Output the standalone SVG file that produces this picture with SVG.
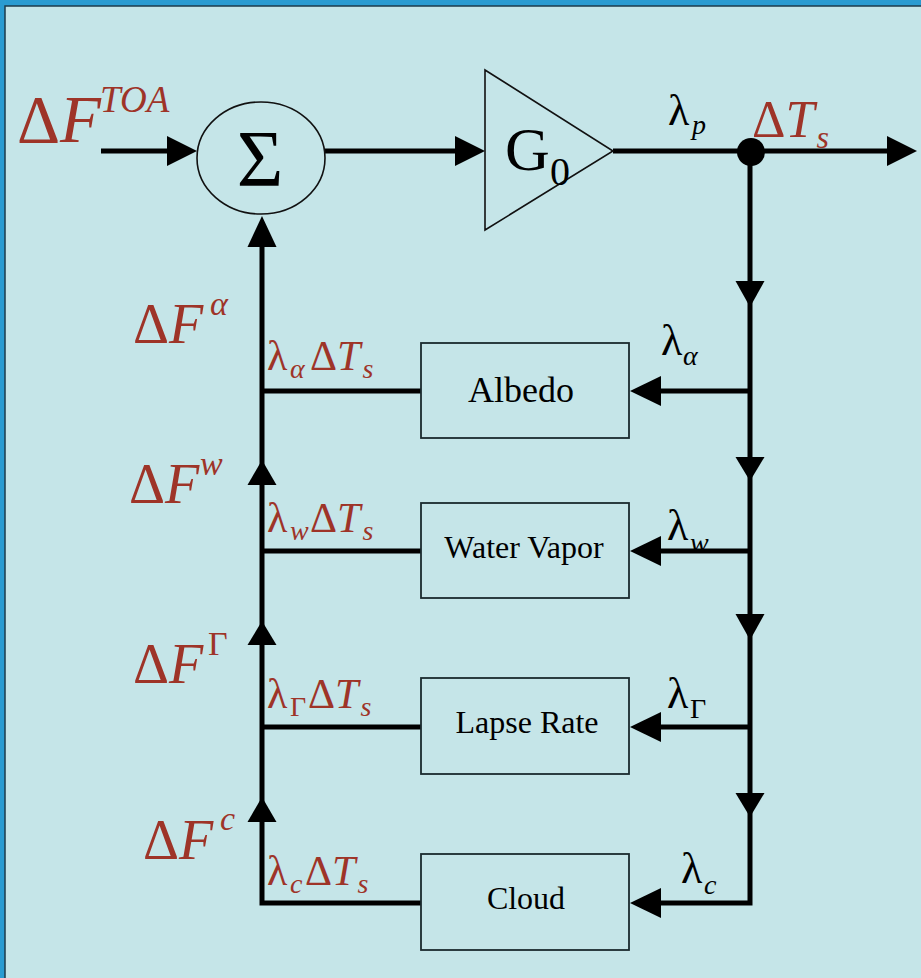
<svg xmlns="http://www.w3.org/2000/svg" width="921" height="978" viewBox="0 0 921 978">
<style>
.ln{fill:none;stroke:#000;stroke-width:5;stroke-linejoin:miter;stroke-linecap:butt}
.ah{fill:#000;stroke:none}
.shp{fill:none;stroke:#111;stroke-width:1.6}
.box{fill:none;stroke:#1a2a2e;stroke-width:1.8}
.t{font-family:"Liberation Serif","Times New Roman",serif;fill:#000}
.r{fill:#9E3428}
.i{font-style:italic}
.bt{font-family:"Liberation Serif","Times New Roman",serif;fill:#000;text-anchor:middle}
</style>
<rect x="0" y="0" width="921" height="978" fill="#2A9BD1"/>
<rect x="5" y="6" width="940" height="990" fill="#C5E5E8" stroke="#1d3b4b" stroke-width="1.5"/>

<g id="connectors">
<path class="ln" d="M101,151 H190"/>
<polygon class="ah" points="167,136 197,151 167,166"/>
<path class="ln" d="M325,151 H478"/>
<polygon class="ah" points="455,136 485,151 455,166"/>
<path class="ln" d="M613,151 H910"/>
<polygon class="ah" points="887,136 917,151 887,166"/>
<path class="ln" d="M750,151 V903 H640"/>
<polygon class="ah" points="735.5,281 764.5,281 750,307"/>
<polygon class="ah" points="735.5,457 764.5,457 750,481"/>
<polygon class="ah" points="735.5,614 764.5,614 750,640"/>
<polygon class="ah" points="735.5,793 764.5,793 750,817"/>
<path class="ln" d="M750,391 H640"/>
<path class="ln" d="M750,551 H640"/>
<path class="ln" d="M750,727 H640"/>
<polygon class="ah" points="661,376 630,391 661,406"/>
<polygon class="ah" points="661,536 630,551 661,566"/>
<polygon class="ah" points="661,712 630,727 661,742"/>
<polygon class="ah" points="661,888 630,903 661,918"/>
<path class="ln" d="M421,903 H262 V225"/>
<path class="ln" d="M262,391 H421"/>
<path class="ln" d="M262,551 H421"/>
<path class="ln" d="M262,727 H421"/>
<polygon class="ah" points="247.5,247 276.5,247 262,216"/>
<polygon class="ah" points="247.5,485 276.5,485 262,460"/>
<polygon class="ah" points="247.5,645 276.5,645 262,621"/>
<polygon class="ah" points="247.5,822 276.5,822 262,797"/>
</g>

<g id="sum">
<ellipse class="shp" cx="261" cy="158" rx="64" ry="56"/>
<text class="t" x="260" y="186" font-size="80" text-anchor="middle">Σ</text>
</g>

<g id="gain">
<polygon class="shp" points="485,70 613,151 485,230"/>
<text class="t" x="505" y="170" font-size="62">G</text>
<text class="t" x="550" y="185" font-size="40">0</text>
</g>

<g id="junction">
<circle cx="751" cy="152" r="14" fill="#000"/>
</g>

<g id="albedo">
<rect class="box" x="421" y="343" width="208" height="95"/>
<text class="bt" x="521" y="402" font-size="36">Albedo</text>
</g>
<g id="water-vapor">
<rect class="box" x="421" y="503" width="208" height="95"/>
<text class="bt" x="524" y="558" font-size="32">Water Vapor</text>
</g>
<g id="lapse-rate">
<rect class="box" x="421" y="678" width="208" height="96"/>
<text class="bt" x="527" y="733" font-size="32">Lapse Rate</text>
</g>
<g id="cloud">
<rect class="box" x="421" y="854" width="208" height="96"/>
<text class="bt" x="526" y="909" font-size="32">Cloud</text>
</g>

<g id="labels">
<text class="t r" x="17" y="142" font-size="67">Δ<tspan class="i">F</tspan><tspan class="i" x="100" y="112" font-size="37">TOA</tspan></text>
<text class="t r" x="752" y="137" font-size="52">Δ<tspan class="i">T</tspan><tspan class="i" dx="2" y="148" font-size="32">s</tspan></text>
<text class="t" x="668" y="125" font-size="44">λ<tspan class="i" x="692" y="134" font-size="28">p</tspan></text>

<text class="t r" x="133" y="343" font-size="56">Δ<tspan class="i">F</tspan><tspan class="i" x="210" y="315" font-size="34">α</tspan></text>
<text class="t r" x="129" y="503" font-size="56">Δ<tspan class="i">F</tspan><tspan class="i" x="200" y="475" font-size="34">w</tspan></text>
<text class="t r" x="133" y="683" font-size="56">Δ<tspan class="i">F</tspan><tspan x="208" y="655" font-size="34">Γ</tspan></text>
<text class="t r" x="143" y="859" font-size="56">Δ<tspan class="i">F</tspan><tspan class="i" x="220" y="830" font-size="34">c</tspan></text>

<text class="t r" x="267" y="370" font-size="42">λ<tspan class="i" x="290" y="378" font-size="28">α</tspan><tspan x="310" y="370">Δ</tspan><tspan class="i">T</tspan><tspan class="i" dx="2" y="378" font-size="28">s</tspan></text>
<text class="t r" x="267" y="532" font-size="42">λ<tspan class="i" x="290" y="540" font-size="28">w</tspan><tspan x="310" y="532">Δ</tspan><tspan class="i">T</tspan><tspan class="i" dx="2" y="540" font-size="28">s</tspan></text>
<text class="t r" x="267" y="708" font-size="42">λ<tspan x="290" y="716" font-size="28">Γ</tspan><tspan x="308" y="708">Δ</tspan><tspan class="i">T</tspan><tspan class="i" dx="2" y="716" font-size="28">s</tspan></text>
<text class="t r" x="267" y="885" font-size="42">λ<tspan class="i" x="290" y="893" font-size="28">c</tspan><tspan x="305" y="885">Δ</tspan><tspan class="i">T</tspan><tspan class="i" dx="2" y="893" font-size="28">s</tspan></text>

<text class="t" x="661" y="355" font-size="44">λ<tspan class="i" x="683" y="365" font-size="28">α</tspan></text>
<text class="t" x="667" y="540" font-size="44">λ<tspan class="i" x="690" y="552" font-size="28">w</tspan></text>
<text class="t" x="667" y="708" font-size="44">λ<tspan x="690" y="718" font-size="28">Γ</tspan></text>
<text class="t" x="681" y="883" font-size="44">λ<tspan class="i" x="704" y="894" font-size="28">c</tspan></text>
</g>
</svg>
